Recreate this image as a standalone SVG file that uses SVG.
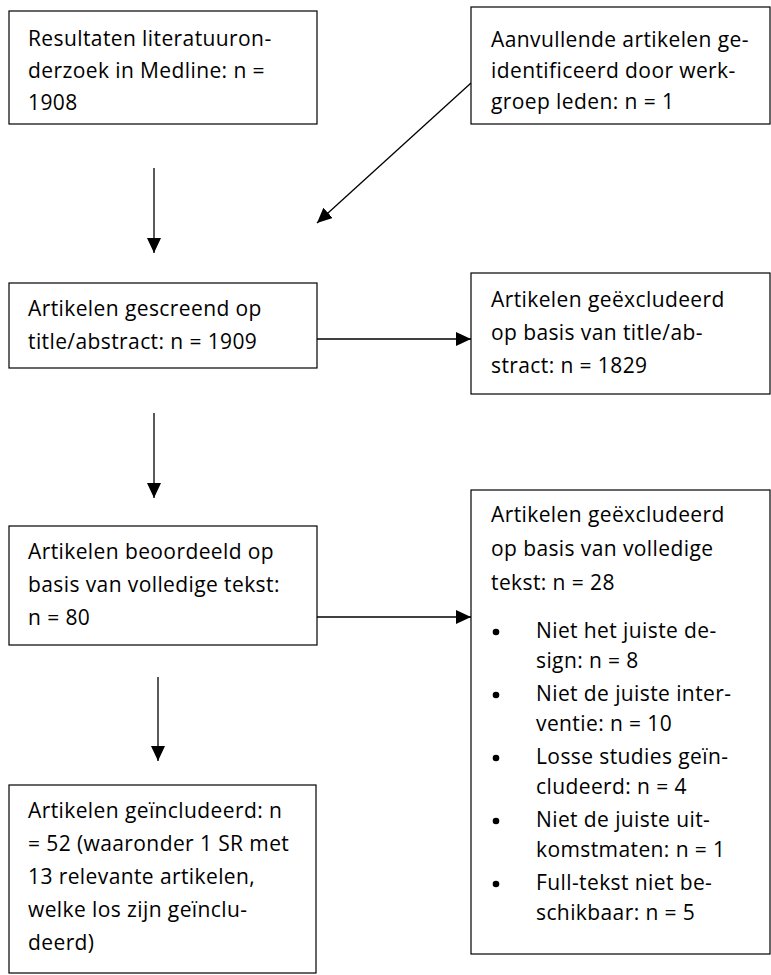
<svg xmlns="http://www.w3.org/2000/svg" width="771" height="975" viewBox="0 0 771 975">
<defs>
<style>
.box{fill:#fff;stroke:#000;stroke-width:1.2}
.t{font-family:"Open Sans","Noto Sans",sans-serif;font-size:21px;letter-spacing:0.4px;fill:#000}
.c{stroke:#000;stroke-width:1.3;fill:none}
</style>
<marker id="ah" markerUnits="userSpaceOnUse" markerWidth="15" markerHeight="14" refX="15" refY="7" orient="auto">
<path d="M0,0 L15,7 L0,14 z" fill="#000"/>
</marker>
</defs>
<rect width="771" height="975" fill="#fff"/>
<g id="connectors">
<line class="c" x1="154" y1="168" x2="154" y2="253" marker-end="url(#ah)"/>
<line class="c" x1="471" y1="83" x2="317" y2="223" marker-end="url(#ah)"/>
<line class="c" x1="317" y1="339" x2="471" y2="339" marker-end="url(#ah)"/>
<line class="c" x1="154" y1="413" x2="154" y2="498" marker-end="url(#ah)"/>
<line class="c" x1="317" y1="617" x2="471" y2="617" marker-end="url(#ah)"/>
<line class="c" x1="158" y1="677" x2="158" y2="761" marker-end="url(#ah)"/>
</g>
<g id="n1">
<rect class="box" x="9" y="11" width="308" height="113"/>
<text class="t" x="28" y="46">Resultaten literatuuron-</text>
<text class="t" x="28" y="78">derzoek in Medline: n =</text>
<text class="t" x="28" y="110">1908</text>
</g>
<g id="n2">
<rect class="box" x="471" y="7" width="299" height="117"/>
<text class="t" x="491" y="47">Aanvullende artikelen ge-</text>
<text class="t" x="491" y="78">identificeerd door werk-</text>
<text class="t" x="491" y="109">groep leden: n = 1</text>
</g>
<g id="n3">
<rect class="box" x="9" y="283" width="308" height="85"/>
<text class="t" x="28" y="316">Artikelen gescreend op</text>
<text class="t" x="28" y="349">title/abstract: n = 1909</text>
</g>
<g id="n4">
<rect class="box" x="471" y="273" width="299" height="121"/>
<text class="t" x="491" y="307">Artikelen geëxcludeerd</text>
<text class="t" x="491" y="340">op basis van title/ab-</text>
<text class="t" x="491" y="373">stract: n = 1829</text>
</g>
<g id="n5">
<rect class="box" x="9" y="526" width="308" height="119"/>
<text class="t" x="28" y="559">Artikelen beoordeeld op</text>
<text class="t" x="28" y="592">basis van volledige tekst:</text>
<text class="t" x="28" y="625">n = 80</text>
</g>
<g id="n6">
<rect class="box" x="471" y="490" width="299" height="464"/>
<text class="t" x="491" y="522">Artikelen geëxcludeerd</text>
<text class="t" x="491" y="556">op basis van volledige</text>
<text class="t" x="491" y="590">tekst: n = 28</text>
<circle cx="496" cy="632" r="3.3"/>
<text class="t" x="536" y="638">Niet het juiste de-</text>
<text class="t" x="536" y="668">sign: n = 8</text>
<circle cx="496" cy="695" r="3.3"/>
<text class="t" x="536" y="701">Niet de juiste inter-</text>
<text class="t" x="536" y="731">ventie: n = 10</text>
<circle cx="496" cy="758" r="3.3"/>
<text class="t" x="536" y="764">Losse studies geïn-</text>
<text class="t" x="536" y="794">cludeerd: n = 4</text>
<circle cx="496" cy="821" r="3.3"/>
<text class="t" x="536" y="827">Niet de juiste uit-</text>
<text class="t" x="536" y="857">komstmaten: n = 1</text>
<circle cx="496" cy="884" r="3.3"/>
<text class="t" x="536" y="890">Full-tekst niet be-</text>
<text class="t" x="536" y="920">schikbaar: n = 5</text>
</g>
<g id="n7">
<rect class="box" x="9" y="785" width="307" height="188"/>
<text class="t" x="28" y="818">Artikelen geïncludeerd: n</text>
<text class="t" x="28" y="851">= 52 (waaronder 1 SR met</text>
<text class="t" x="28" y="884">13 relevante artikelen,</text>
<text class="t" x="28" y="917">welke los zijn geïnclu-</text>
<text class="t" x="28" y="950">deerd)</text>
</g>
</svg>
